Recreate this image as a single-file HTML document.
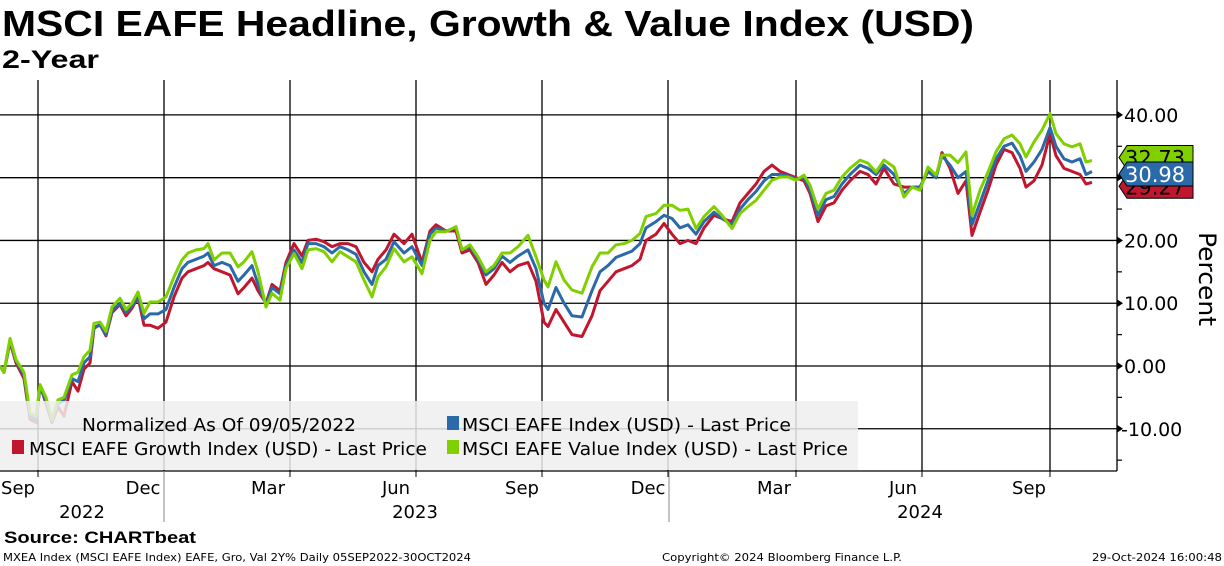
<!DOCTYPE html>
<html><head><meta charset="utf-8"><style>
html,body{margin:0;padding:0;background:#fff;}
svg{display:block;font-family:"DejaVu Sans","Liberation Sans",sans-serif;}
</style></head><body>
<svg id="chart" width="1224" height="566" viewBox="0 0 1224 566">
<text x="2" y="36" font-family="Liberation Sans, sans-serif" font-weight="bold" font-size="36" textLength="972" lengthAdjust="spacingAndGlyphs">MSCI EAFE Headline, Growth &amp; Value Index (USD)</text>
<text x="2" y="68" font-family="Liberation Sans, sans-serif" font-weight="bold" font-size="25" textLength="97" lengthAdjust="spacingAndGlyphs">2-Year</text>
<g id="grid"></g>
<g id="series"></g>
<g id="legend">
<rect x="0" y="401" width="858" height="69" fill="#eeeeee" fill-opacity="0.85"/>
<text x="82" y="431" font-size="18" textLength="274" lengthAdjust="spacingAndGlyphs">Normalized As Of 09/05/2022</text>
<rect x="447" y="416" width="12" height="14" fill="#2a6aa8"/>
<text x="462" y="431" font-size="18" textLength="329" lengthAdjust="spacingAndGlyphs">MSCI EAFE Index (USD) - Last Price</text>
<rect x="12" y="440" width="12" height="14" fill="#c0172f"/>
<text x="29" y="455" font-size="18" textLength="398" lengthAdjust="spacingAndGlyphs">MSCI EAFE Growth Index (USD) - Last Price</text>
<rect x="447" y="440" width="12" height="14" fill="#80d000"/>
<text x="462" y="455" font-size="18" textLength="386" lengthAdjust="spacingAndGlyphs">MSCI EAFE Value Index (USD) - Last Price</text>
</g>
<g id="axes"></g>
<text x="0" y="0" font-size="24" transform="translate(1199,232) rotate(90)" textLength="94" lengthAdjust="spacingAndGlyphs">Percent</text>
<text x="4" y="543" font-family="Liberation Sans, sans-serif" font-weight="bold" font-size="17" textLength="192" lengthAdjust="spacingAndGlyphs">Source: CHARTbeat</text>
<text x="3" y="561" font-size="11" textLength="468" lengthAdjust="spacingAndGlyphs">MXEA Index (MSCI EAFE Index) EAFE, Gro, Val 2Y% Daily 05SEP2022-30OCT2024</text>
<text x="662" y="561" font-size="11" textLength="240" lengthAdjust="spacingAndGlyphs">Copyright© 2024 Bloomberg Finance L.P.</text>
<text x="1092" y="561" font-size="11" textLength="130" lengthAdjust="spacingAndGlyphs">29-Oct-2024 16:00:48</text>
</svg>
<script>
const days=[0,2,5,8,12,15,18,20,23,26,29,32,36,39,42,45,47,50,53,56,60,63,66,69,72,75,79,83,87,91,94,98,102,104,107,111,115,119,122,126,129,133,136,140,143,147,151,154,158,162,166,170,174,178,182,186,189,193,197,202,206,211,215,218,223,228,231,235,239,243,247,251,255,259,264,268,272,274,278,282,286,291,296,300,304,308,312,316,320,323,328,332,336,340,344,348,352,357,361,366,370,374,378,382,386,390,394,398,402,405,409,413,417,421,425,430,434,438,442,447,452,456,460,464,468,471,475,479,483,486,490,494,498,502,506,510,513,517,521,525,528,532,536,540,543,546];
const valueSeries=[0,-1,4.4,1,-1,-7.5,-8,-3,-5,-8.6,-5.4,-5,-1.4,-1,1.5,2.5,6.8,7,5.5,9.4,10.8,9,10,11.8,8.4,10.2,10.2,11,14.2,16.9,18,18.5,18.7,19.5,16.9,18,18,15.8,16.6,18.2,15,9.4,11.6,10.5,15.5,17.9,15.5,18.5,18.7,18.2,16.6,18.2,17.4,16.6,13.7,11,14.2,15.8,18.7,16.6,17.4,14.7,20,21.4,21.4,22.2,18.5,19.3,17.4,15,16,18,18,19,20.8,17.4,13.7,12.6,16.6,13.7,12.1,11.6,15.8,18,18,19.3,19.5,20,21.1,23.8,24.3,25.6,25.6,24.8,25,21.9,23.8,25.4,24,21.9,24.3,25.4,26.4,28,29.6,30.1,30.1,29.6,30.4,28.8,25,27.5,28,30.1,31.5,32.8,32.3,30.9,32.8,31.7,26.9,28.5,28,31.7,30.4,33.6,33.6,32.4,34.1,24,28,30.9,34.1,36.2,36.8,35.4,33.3,35.7,37.6,40.2,37,35.4,34.9,35.4,32.5,32.73];
const indexSeries=[0,-1,4,0.8,-1.5,-8,-8.5,-3.5,-5.5,-8.8,-6,-5.5,-2,-2.5,0.5,1.5,6.2,6.5,5,8.8,10,8.5,9.5,11.2,7.5,8.3,8.3,9,12.5,15.5,16.5,17,17.5,18,16,16.5,16,13.5,14.5,16,13,9.8,12.5,11.5,16,18.5,16.5,19.5,19.5,19,18,19,18.5,17.8,15,13,16,17,19.8,18,19,16,21,22,21.5,22,18.5,19,17,14.5,15.5,17.5,16.5,17.5,18.5,15.5,10,9,12.5,10,8,7.8,12,15,16,17.3,17.8,18.3,19.5,22,23,24,23.5,22,22.5,21,23,24.5,23.5,22.5,25,26.5,27.8,29.5,30.5,30.5,30.3,29.8,30,28,24,26.5,27,29,30.5,32,31.5,30.5,32,30.5,27.5,28.5,28.5,31,30,33.5,32,30,31,22.5,26,29.5,33,35,35.5,33.5,31,32.5,34.5,38,35,33,32.5,33,30.5,30.98];
const growthSeries=[0,-1,3.8,0.5,-2,-8.5,-9,-3,-6,-9,-6.5,-8,-2.5,-4,-0.5,0.5,6,6.6,4.8,8.5,9.8,8,9.2,11,6.5,6.5,6,7,11,14,15,15.5,16,16.5,15.5,15,14.5,11.5,12.5,14,12,10,13,12,16.5,19.5,17.5,20,20.2,19.8,19,19.5,19.5,19,16.5,15,17,18.5,21,19.5,21,16.5,21.5,22.5,21.5,21.5,18,18.5,16.5,13,14.5,16.5,15,16,16.5,13.5,7,6.3,9,7,5,4.7,8,12,13.5,15,15.5,16,17,20,21,22.7,21,19.5,20,19.5,22,24,23.5,23,26,27.5,29,31,32,31,30.5,30,29.5,27.5,23,25.5,26,28,29.5,31,30.5,29,31.5,29,28.5,28.5,28.5,31,30,34,31.5,27.5,29.5,20.8,24.5,28,32,34.5,34,31.5,28.5,29.5,32,37,33.5,31.5,31,30.5,29,29.27];
const yTicks=[-10,0,10,20,30,40];
const yTickLabels=["-10.00","0.00","10.00","20.00","","40.00"];
const gridDays=[19,82,145,208,271,334,398,461,525];
const monthDays=[9,71.5,134,198,261,324,387,451.5,514.5];
const monthLabels=["Sep","Dec","Mar","Jun","Sep","Dec","Mar","Jun","Sep"];
const yearDays=[41,207.5,460];
const yearLabels=["2022","2023","2024"];
const yearBreakDays=[82,334.5];
const lastValues=[32.73,30.98,29.27];
const lastLabels=["32.73","30.98","29.27"];

const NS="http://www.w3.org/2000/svg";
const X0=0,X1=1092,D0=0,D1=546;
const xs=d=>X0+(d-D0)/(D1-D0)*(X1-X0);
const ys=v=>366-v*6.2775;
function mk(tag,attrs,parent,text){const e=document.createElementNS(NS,tag);for(const k in attrs)e.setAttribute(k,attrs[k]);if(text!==undefined)e.textContent=text;parent.appendChild(e);return e;}
const grid=document.getElementById('grid'),ser=document.getElementById('series'),axes=document.getElementById('axes');
const TOP=80,BOT=471,AX=1117;
yTicks.forEach((v,i)=>{
  const l=mk('line',{x1:0,x2:AX,y1:ys(v),y2:ys(v),stroke:'#000','stroke-width':1.3},grid);
  
  
});
gridDays.forEach(d=>{
  const l=mk('line',{x1:xs(d),x2:xs(d),y1:TOP,y2:BOT,stroke:'#000','stroke-width':1.3},grid);
  
  
});
const series=[[growthSeries,'#c0172f','growth-line'],[indexSeries,'#2a6aa8','eafe-line'],[valueSeries,'#80d000','value-line']];
series.forEach(s=>{
  const pts=s[0].map((v,i)=>xs(days[i]).toFixed(1)+','+ys(v).toFixed(1)).join(' ');
  const p=mk('polyline',{points:pts,fill:'none',stroke:s[1],'stroke-width':3,'stroke-linejoin':'round'},ser);
  
  
});
let a=mk('line',{x1:AX,x2:AX,y1:TOP,y2:BOT,stroke:'#000','stroke-width':1.3},axes);


a=mk('line',{x1:0,x2:AX,y1:BOT,y2:BOT,stroke:'#000','stroke-width':1.3},axes);


for(let v=-15;v<=40;v+=5){
  const t=mk('line',{x1:AX,x2:AX+5,y1:ys(v),y2:ys(v),stroke:'#000','stroke-width':1.2},axes);
  
  
}
yTicks.forEach((v,i)=>{
  const t=mk('path',{d:`M${AX} ${ys(v)-4}L${AX+6} ${ys(v)}L${AX} ${ys(v)+4}Z`,fill:'#000'},axes);
  
  
  const lb=mk('text',{x:AX+4+(v<0?0:3),y:ys(v)+7,'font-size':19},axes,yTickLabels[i]);
  
  
});
monthDays.forEach((d,i)=>{
  const t=mk('text',{x:xs(d),y:494,'font-size':18,'text-anchor':'middle'},axes,monthLabels[i]);
  
  
});
gridDays.forEach(d=>{
  const t=mk('line',{x1:xs(d),x2:xs(d),y1:BOT,y2:BOT+6,stroke:'#000'},axes);
  
  
});
yearBreakDays.forEach(d=>{
  const t=mk('line',{x1:xs(d),x2:xs(d),y1:BOT,y2:522,stroke:'#888'},axes);
  
  
});
yearDays.forEach((d,i)=>{
  const t=mk('text',{x:xs(d),y:518,'font-size':18,'text-anchor':'middle'},axes,yearLabels[i]);
  
  
});
// last value tags: value (green), index (blue), growth (red); blue drawn on top
const tagCols=['#80d000','#2a6aa8','#c0172f'];
const tagOffsets=[-3,2.5,4];
[0,2,1].forEach(k=>{
  const cy=ys(lastValues[k])+tagOffsets[k],h=24;
  const g=mk('g',{},axes);
  
  
  mk('path',{d:`M${AX+2} ${cy}L${AX+10} ${cy-h/2}L1193 ${cy-h/2}L1193 ${cy+h/2}L${AX+10} ${cy+h/2}Z`,fill:tagCols[k],stroke:'#000','stroke-width':1},g);
  mk('text',{x:1125,y:cy+8,'font-size':21,fill:k==1?'#fff':'#000'},g,lastLabels[k]);
});
</script>
</body></html>
